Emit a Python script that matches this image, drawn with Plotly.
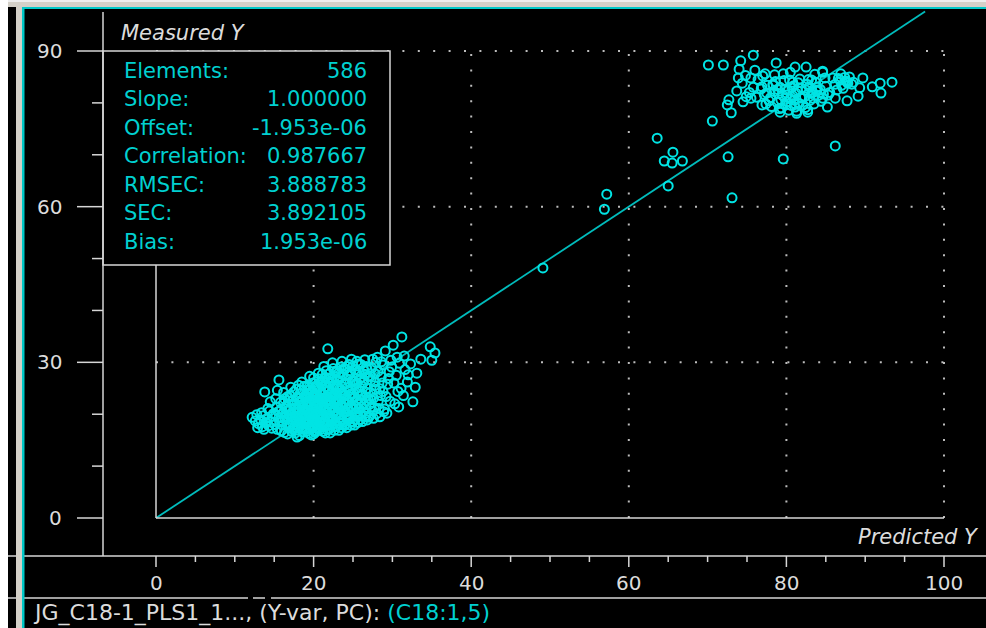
import plotly.graph_objects as go

# ---------------------------------------------------------------------------
# Predicted vs. measured values (Predicted Y, Measured Y)
# ---------------------------------------------------------------------------
lower_group = [
    (12.2, 19.4), (12.6, 18.7), (12.9, 17.4), (12.8, 19.9), (13.0, 18.2),
    (13.3, 18.9), (13.5, 17.6), (13.6, 19.7), (13.8, 24.3), (13.4, 20.3), (13.9, 18.4), (13.7, 17.1),
    (14.1, 19.2), (14.3, 17.8), (14.4, 20.6), (14.6, 18.5), (14.2, 21.1), (14.8, 19.6), (14.7, 17.3),
    (14.9, 20.1), (14.5, 22.4),
    (15.1, 18.0), (15.2, 19.9), (15.3, 21.4), (15.4, 17.1), (15.6, 26.6), (15.5, 20.5), (15.7, 18.7),
    (15.8, 22.3), (15.9, 16.8), (15.2, 23.0), (15.6, 19.3), (15.9, 21.0), (15.4, 24.6),
    (16.0, 17.9), (16.1, 20.2), (16.2, 22.1), (16.3, 16.5), (16.4, 19.0), (16.5, 21.5), (16.6, 18.3),
    (16.7, 23.4), (16.8, 20.7), (16.9, 17.4), (16.2, 24.2), (16.5, 19.6), (16.8, 22.6), (16.1, 18.7),
    (16.4, 21.0), (16.7, 16.2), (16.9, 19.9), (16.3, 23.0),
    (17.0, 18.1), (17.1, 20.9), (17.2, 16.7), (17.3, 22.5), (17.4, 19.4), (17.5, 24.3), (17.6, 17.6),
    (17.7, 21.3), (17.8, 18.9), (17.9, 15.6), (17.0, 23.6), (17.2, 20.0), (17.4, 17.2), (17.6, 22.0),
    (17.8, 19.7), (17.1, 25.2), (17.3, 18.5), (17.5, 21.0), (17.7, 16.4), (17.9, 23.2), (17.2, 19.1),
    (17.6, 20.4), (17.8, 24.8), (17.4, 21.8), (17.9, 17.9),
    (18.0, 16.9), (18.1, 19.3), (18.2, 21.7), (18.3, 24.0), (18.4, 17.8), (18.5, 20.1), (18.6, 22.9),
    (18.7, 18.6), (18.8, 25.4), (18.9, 20.8), (18.0, 23.1), (18.2, 15.9), (18.4, 22.2), (18.6, 19.6),
    (18.8, 17.2), (18.1, 21.0), (18.3, 18.2), (18.5, 26.2), (18.7, 21.4), (18.9, 23.6), (18.0, 20.4),
    (18.2, 18.8), (18.4, 24.7), (18.6, 16.6), (18.8, 19.9), (18.3, 22.5), (18.5, 17.5), (18.7, 20.9),
    (18.9, 18.3), (18.1, 25.6),
    (19.0, 17.4), (19.1, 19.8), (19.2, 22.3), (19.3, 24.6), (19.4, 16.3), (19.5, 18.9), (19.6, 21.5),
    (19.7, 23.8), (19.8, 20.3), (19.9, 26.0), (19.0, 21.0), (19.2, 18.1), (19.4, 20.6), (19.6, 17.2),
    (19.8, 22.8), (19.1, 24.0), (19.3, 19.2), (19.5, 27.3), (19.7, 19.5), (19.9, 17.8), (19.0, 23.3),
    (19.2, 25.4), (19.4, 22.0), (19.6, 20.0), (19.8, 18.5), (19.1, 16.7), (19.3, 21.8), (19.5, 23.1),
    (19.7, 16.0), (19.9, 21.2), (19.2, 20.4), (19.4, 18.4), (19.6, 25.0), (19.8, 24.3), (19.5, 19.6),
    (20.0, 16.2), (20.1, 18.6), (20.2, 20.9), (20.3, 23.2), (20.4, 25.5), (20.5, 17.3), (20.6, 19.7),
    (20.7, 22.0), (20.8, 24.4), (20.9, 21.1), (20.0, 27.0), (20.2, 19.0), (20.4, 21.6), (20.6, 17.9),
    (20.8, 20.2), (20.1, 22.7), (20.3, 16.8), (20.5, 24.9), (20.7, 18.4), (20.9, 26.3), (20.0, 20.5),
    (20.2, 23.8), (20.4, 18.0), (20.6, 21.9), (20.8, 17.0), (20.1, 25.0), (20.3, 20.0), (20.5, 22.4),
    (20.7, 26.8), (20.9, 19.1), (20.0, 18.9), (20.2, 16.5), (20.4, 23.5), (20.6, 27.9), (20.8, 22.9),
    (20.3, 21.5), (20.5, 19.4),
    (21.0, 17.6), (21.1, 20.0), (21.2, 22.4), (21.3, 24.8), (21.4, 27.1), (21.5, 18.7), (21.6, 21.1),
    (21.7, 23.4), (21.8, 32.6), (21.9, 19.6), (21.0, 25.7), (21.2, 16.7), (21.4, 20.6), (21.6, 28.4),
    (21.8, 22.0), (21.1, 23.7), (21.3, 18.2), (21.5, 26.0), (21.7, 17.0), (21.9, 24.5), (21.0, 21.8),
    (21.2, 19.3), (21.4, 23.0), (21.6, 25.4), (21.8, 18.8), (21.1, 27.7), (21.3, 21.4), (21.5, 16.4),
    (21.7, 20.3), (21.9, 27.0), (21.0, 23.1), (21.2, 26.4), (21.4, 17.8), (21.6, 22.7), (21.8, 25.0),
    (21.3, 29.2), (21.5, 20.8),
    (22.0, 17.2), (22.1, 19.5), (22.2, 21.9), (22.3, 24.2), (22.4, 26.6), (22.5, 28.8), (22.6, 18.3),
    (22.7, 20.7), (22.8, 23.0), (22.9, 25.3), (22.0, 27.8), (22.1, 16.4), (22.2, 22.6), (22.4, 19.0),
    (22.6, 24.9), (22.8, 17.6), (22.3, 21.2), (22.5, 23.6), (22.7, 27.2), (22.9, 20.1), (22.0, 24.6),
    (22.2, 18.5), (22.4, 29.9), (22.6, 22.2), (22.8, 19.8), (22.1, 25.9), (22.3, 17.9), (22.5, 20.4),
    (22.7, 24.1), (22.9, 22.6), (22.0, 20.9), (22.2, 26.9), (22.4, 23.3), (22.6, 16.9), (22.8, 28.1),
    (22.3, 19.3), (22.5, 25.6),
    (23.0, 17.7), (23.1, 20.2), (23.2, 22.5), (23.3, 24.9), (23.4, 27.2), (23.5, 29.1), (23.6, 18.9),
    (23.7, 21.3), (23.8, 23.6), (23.9, 26.0), (23.0, 28.4), (23.2, 16.9), (23.4, 19.4), (23.6, 25.3),
    (23.8, 20.6), (23.1, 23.0), (23.3, 18.3), (23.5, 21.9), (23.7, 27.7), (23.9, 17.8), (23.0, 25.6),
    (23.2, 19.9), (23.4, 24.1), (23.6, 30.2), (23.8, 22.3), (23.1, 26.6), (23.3, 21.0), (23.5, 17.4),
    (23.7, 23.9), (23.9, 28.8), (23.0, 22.1), (23.2, 28.0), (23.4, 21.6), (23.6, 20.0), (23.8, 18.4),
    (23.5, 24.6),
    (24.0, 18.0), (24.1, 20.4), (24.2, 22.8), (24.3, 25.1), (24.4, 27.5), (24.5, 29.6), (24.6, 19.2),
    (24.7, 21.6), (24.8, 24.0), (24.9, 26.4), (24.0, 28.7), (24.2, 17.4), (24.4, 20.9), (24.6, 23.3),
    (24.8, 30.6), (24.1, 25.8), (24.3, 19.5), (24.5, 22.1), (24.7, 27.9), (24.9, 18.6), (24.0, 23.6),
    (24.2, 26.8), (24.4, 18.9), (24.6, 28.4), (24.8, 21.2), (24.1, 22.0), (24.3, 29.2), (24.5, 24.5),
    (24.7, 17.9), (24.9, 23.0), (24.2, 20.0), (24.6, 26.1),
    (25.0, 18.5), (25.1, 21.0), (25.2, 23.3), (25.3, 25.7), (25.4, 28.0), (25.5, 30.2), (25.6, 19.6),
    (25.7, 22.1), (25.8, 24.5), (25.9, 26.9), (25.0, 29.3), (25.2, 17.9), (25.4, 20.4), (25.6, 27.6),
    (25.8, 21.0), (25.1, 24.0), (25.3, 19.0), (25.5, 22.8), (25.7, 29.7), (25.9, 23.6), (25.0, 26.3),
    (25.2, 28.6), (25.4, 24.9), (25.6, 18.4), (25.8, 28.3), (25.3, 21.6), (25.5, 26.0), (25.9, 20.2),
    (26.0, 19.0), (26.1, 21.4), (26.2, 23.8), (26.3, 26.1), (26.4, 28.4), (26.5, 30.5), (26.6, 20.2),
    (26.7, 22.6), (26.8, 25.0), (26.9, 27.3), (26.0, 29.6), (26.2, 18.6), (26.4, 21.9), (26.6, 24.3),
    (26.8, 18.9), (26.1, 25.5), (26.3, 20.5), (26.5, 27.7), (26.7, 29.2), (26.9, 23.1), (26.0, 22.7),
    (26.4, 26.6), (26.6, 19.6), (26.8, 28.6),
    (27.0, 19.4), (27.1, 21.9), (27.2, 24.2), (27.3, 26.6), (27.4, 28.9), (27.5, 20.6), (27.6, 23.1),
    (27.7, 25.5), (27.8, 27.8), (27.9, 30.0), (27.1, 19.7), (27.3, 22.8), (27.5, 30.6), (27.7, 21.3),
    (27.9, 24.8), (27.2, 27.3), (27.6, 19.2), (27.8, 26.2),
    (28.0, 20.1), (28.2, 22.5), (28.4, 24.9), (28.6, 27.2), (28.8, 29.5), (28.1, 31.0), (28.3, 21.1),
    (28.5, 23.6), (28.7, 26.0), (28.9, 20.5), (28.2, 28.3), (28.6, 30.1), (28.4, 19.5), (28.8, 24.4),
    (29.0, 21.0), (29.2, 23.4), (29.4, 25.8), (29.6, 28.2), (29.8, 30.4), (29.1, 32.2), (29.3, 20.2),
    (29.5, 26.9), (29.7, 22.5), (29.9, 29.1),
    (30.1, 33.3), (30.3, 22.0), (30.5, 27.5), (30.7, 24.4), (30.9, 29.8), (30.2, 26.0), (30.6, 31.0),
    (30.8, 21.4),
    (31.2, 34.9), (31.4, 23.6), (31.6, 28.6), (31.9, 26.2), (31.5, 31.2), (31.1, 25.0),
    (32.6, 22.4), (32.3, 29.7), (32.9, 25.2), (32.0, 27.6),
    (33.1, 27.9), (33.6, 30.6),
    (34.8, 33.0), (35.4, 31.8), (35.0, 30.4),
]

middle_points = [
    (49.1, 48.2), (57.2, 62.4), (56.9, 59.5), (63.6, 73.2), (65.6, 70.5), (64.5, 68.8), (65.5, 68.4),
    (66.8, 68.8), (65.0, 64.0), (72.6, 69.6), (73.1, 61.7), (70.6, 76.5), (79.6, 69.2), (86.2, 71.7),
]

upper_group = [
    (70.1, 87.3), (72.0, 87.3), (74.2, 88.1), (74.0, 86.5), (75.8, 89.2), (78.7, 87.7), (81.1, 86.9),
    (82.5, 86.9), (84.6, 86.1), (75.5, 84.8), (74.4, 83.8), (77.3, 85.6), (73.7, 82.3), (72.7, 80.6),
    (72.5, 79.6), (73.0, 78.1), (74.5, 80.2), (75.5, 80.9), (76.9, 79.6), (76.9, 83.1), (77.5, 81.9),
    (78.3, 83.4), (79.2, 78.2), (81.3, 78.0), (82.7, 78.2), (80.8, 84.0), (83.2, 84.4), (85.2, 79.2),
    (86.2, 80.9), (87.7, 80.4), (89.1, 81.3), (89.7, 84.8), (90.9, 83.1), (91.9, 83.8), (92.0, 81.9),
    (93.4, 84.0), (89.3, 82.9), (86.8, 84.4), (87.7, 84.0), (88.5, 84.0), (85.9, 84.8), (83.9, 82.5),
    (84.6, 80.9), (85.3, 81.5),
    (78.0, 81.0), (78.4, 82.2), (78.8, 80.1), (79.2, 83.0), (79.5, 81.5), (79.9, 79.6), (80.2, 82.4),
    (80.5, 80.8), (80.9, 83.3), (81.2, 81.9), (81.6, 79.9), (81.9, 82.8), (82.3, 81.2), (82.6, 83.6),
    (83.0, 80.5), (83.3, 82.1), (83.7, 84.0), (84.0, 81.4), (77.6, 83.4), (78.1, 79.3), (78.6, 84.1),
    (79.0, 81.8), (79.4, 79.0), (79.8, 82.6), (80.1, 80.2), (80.4, 84.4), (80.8, 81.4), (81.1, 79.2),
    (81.5, 83.9), (81.8, 81.0), (82.1, 79.6), (82.5, 82.5), (82.8, 84.5), (83.2, 81.8), (83.5, 79.8),
    (83.9, 83.0), (84.3, 82.6), (84.7, 81.7), (77.2, 81.6), (77.8, 80.4), (78.3, 83.6), (78.9, 82.6),
    (79.3, 80.6), (79.7, 84.3), (80.0, 81.5), (80.6, 79.5), (80.7, 83.0), (81.0, 80.5), (81.4, 82.4),
    (81.7, 84.6), (82.0, 80.9), (82.4, 79.1), (82.9, 83.1), (83.4, 80.9), (83.8, 82.3), (84.4, 80.3),
    (76.8, 82.7), (77.4, 79.8), (76.4, 84.5), (77.0, 85.2), (76.2, 81.1), (75.8, 83.0), (85.0, 83.2),
    (85.5, 82.0), (84.9, 84.8), (86.2, 83.6), (86.6, 84.7), (87.0, 83.4), (87.4, 84.9), (87.8, 83.8),
    (86.9, 85.6), (87.2, 82.8), (88.0, 85.0), (86.4, 82.5), (88.3, 83.6), (87.6, 84.2), (80.3, 78.6),
    (81.3, 78.4), (79.1, 78.9), (82.7, 78.7), (78.5, 85.4), (79.6, 85.6), (80.5, 85.9), (76.0, 86.3),
    (74.8, 85.3), (75.3, 82.0), (74.9, 81.2), (73.9, 84.8), (83.6, 85.5), (84.6, 85.9),
]

# regression statistics
slope = 1.000000
offset = -1.953e-06
correlation = 0.987667
rmsec = 3.888783
sec = 3.892105
bias = 1.953e-06

fit_x = [0.0, 97.6]

x_ticks = [0, 20, 40, 60, 80, 100]
x_minor = [5, 10, 15, 25, 30, 35, 45, 50, 55, 65, 70, 75, 85, 90, 95]
y_ticks = [0, 30, 60, 90]
y_minor = [10, 20, 40, 50, 70, 80]

x_title = "Predicted Y"
y_title = "Measured Y"
footer_main = "JG_C18-1_PLS1_1..., (Y-var, PC): "
footer_var = "(C18:1,5)"

# ---------------------------------------------------------------------------
points = lower_group + middle_points + upper_group
pred = [p for p, _ in points]
meas = [m for _, m in points]
fit_y = [slope * x + offset for x in fit_x]

stat_labels = ["Elements:", "Slope:", "Offset:", "Correlation:", "RMSEC:", "SEC:", "Bias:"]
stat_values = [
    f"{len(points)}",
    f"{slope:.6f}",
    f"{offset:.3e}",
    f"{correlation:.6f}",
    f"{rmsec:.6f}",
    f"{sec:.6f}",
    f"{bias:.3e}",
]

# page geometry (pixels)
W, H = 986, 628
X0_PX, X100_PX = 156, 944        # x = 0 and x = 100
Y0_PX, Y90_PX = 518, 51          # y = 0 and y = 90
kx = (X100_PX - X0_PX) / 100.0
ky = (Y0_PX - Y90_PX) / 90.0
x_range = [-X0_PX / kx, (W - X0_PX) / kx]
y_range = [-(H - Y0_PX) / ky, Y0_PX / ky]


def fx(px):
    return px / W


def fy(py):
    return 1 - py / H


FONT = "DejaVu Sans"
TXT = "#dcdcdc"
LINE = "#d6d6d6"
CYAN = "#00e4e4"
STAT = "#00d0d0"
GRID = "#bcbcbc"

fig = go.Figure()

fig.add_trace(go.Scatter(
    x=fit_x, y=fit_y, mode="lines",
    line=dict(color="#00bcbc", width=1.8),
    hoverinfo="skip",
))
fig.add_trace(go.Scatter(
    x=pred, y=meas, mode="markers",
    marker=dict(symbol="circle-open", size=9, color=CYAN, line=dict(color=CYAN, width=2)),
))

shapes = []

# dotted grid inside the 0..100 x 0..90 box
for v in x_ticks[1:]:
    shapes.append(dict(type="line", xref="x", yref="y", x0=v, x1=v, y0=y_ticks[0], y1=y_ticks[-1],
                       line=dict(color=GRID, width=2, dash="2px,13.4px"), layer="below"))
for v in y_ticks[1:]:
    shapes.append(dict(type="line", xref="x", yref="y", x0=x_ticks[0], x1=x_ticks[-1], y0=v, y1=v,
                       line=dict(color=GRID, width=2, dash="2px,13.4px"), layer="below"))

# axis lines through the origin
shapes.append(dict(type="line", xref="x", yref="y", x0=x_ticks[0], x1=x_ticks[-1], y0=0, y1=0,
                   line=dict(color=LINE, width=1.5), layer="above"))
shapes.append(dict(type="line", xref="x", yref="y", x0=0, x1=0, y0=y_ticks[0], y1=y_ticks[-1],
                   line=dict(color=LINE, width=1.5), layer="above"))

# statistics panel
shapes.append(dict(type="rect", xref="paper", yref="paper", x0=fx(103), x1=fx(390), y0=fy(265), y1=fy(51),
                   fillcolor="black", line=dict(color=LINE, width=1.5), layer="above"))

# left value strip
shapes.append(dict(type="line", xref="paper", yref="paper", x0=fx(103), x1=fx(103), y0=fy(556), y1=fy(12),
                   line=dict(color=LINE, width=1.5), layer="above"))
for v in y_ticks:
    shapes.append(dict(type="line", xref="paper", yref="y", x0=fx(77), x1=fx(103), y0=v, y1=v,
                       line=dict(color=LINE, width=1.5), layer="above"))
for v in y_minor:
    shapes.append(dict(type="line", xref="paper", yref="y", x0=fx(92), x1=fx(103), y0=v, y1=v,
                       line=dict(color=LINE, width=1.5), layer="above"))

# bottom value strip
shapes.append(dict(type="line", xref="paper", yref="paper", x0=fx(8), x1=1, y0=fy(556), y1=fy(556),
                   line=dict(color=LINE, width=1.5), layer="above"))
for v in x_ticks:
    shapes.append(dict(type="line", xref="x", yref="paper", x0=v, x1=v, y0=fy(556), y1=fy(567),
                       line=dict(color=LINE, width=1.5), layer="above"))
for v in x_minor:
    shapes.append(dict(type="line", xref="x", yref="paper", x0=v, x1=v, y0=fy(556), y1=fy(562),
                       line=dict(color=LINE, width=1.5), layer="above"))

# status bar separator
for a, b in [(8, 248), (253, 265), (271, W)]:
    shapes.append(dict(type="line", xref="paper", yref="paper", x0=fx(a), x1=fx(b), y0=fy(598), y1=fy(598),
                       line=dict(color=LINE, width=1.5), layer="above"))

# window frame
shapes += [
    dict(type="rect", xref="paper", yref="paper", x0=0, x1=1, y0=fy(7), y1=1,
         fillcolor="#d4d0c8", line=dict(width=0), layer="above"),
    dict(type="rect", xref="paper", yref="paper", x0=0, x1=1, y0=fy(2), y1=1,
         fillcolor="#eeeeee", line=dict(width=0), layer="above"),
    dict(type="rect", xref="paper", yref="paper", x0=fx(22), x1=1, y0=fy(9), y1=fy(7),
         fillcolor="#00c8c8", line=dict(width=0), layer="above"),
    dict(type="rect", xref="paper", yref="paper", x0=0, x1=fx(8), y0=0, y1=1,
         fillcolor="#ffffff", line=dict(width=0), layer="above"),
    dict(type="rect", xref="paper", yref="paper", x0=fx(16), x1=fx(22), y0=0, y1=fy(7),
         fillcolor="#d4d0c8", line=dict(width=0), layer="above"),
    dict(type="rect", xref="paper", yref="paper", x0=fx(22), x1=fx(24.5), y0=0, y1=fy(7),
         fillcolor="#00c8c8", line=dict(width=0), layer="above"),
]

annotations = []
for v in y_ticks:
    annotations.append(dict(xref="paper", yref="y", x=fx(64), y=v, xanchor="right", yanchor="middle",
                            text=str(v), showarrow=False, font=dict(family=FONT, size=20, color=TXT)))
for v in x_ticks:
    annotations.append(dict(xref="x", yref="paper", x=v, y=fy(583), xanchor="center", yanchor="middle",
                            text=str(v), showarrow=False, font=dict(family=FONT, size=20, color=TXT)))

annotations.append(dict(xref="paper", yref="paper", x=fx(119), y=fy(33), xanchor="left", yanchor="middle",
                        text=f"<i>{y_title}</i>", showarrow=False, font=dict(family=FONT, size=21, color=TXT)))
annotations.append(dict(xref="paper", yref="paper", x=fx(981), y=fy(537), xanchor="right", yanchor="middle",
                        text=f"<i>{x_title}</i>", showarrow=False, font=dict(family=FONT, size=21, color=TXT)))

row_y = [70.5, 99, 127.5, 156, 184.5, 213, 241.5]
for lab, val, yy in zip(stat_labels, stat_values, row_y):
    annotations.append(dict(xref="paper", yref="paper", x=fx(122), y=fy(yy), xanchor="left", yanchor="middle",
                            text=lab, showarrow=False, font=dict(family=FONT, size=21, color=STAT)))
    annotations.append(dict(xref="paper", yref="paper", x=fx(369), y=fy(yy), xanchor="right", yanchor="middle",
                            text=val, showarrow=False, font=dict(family=FONT, size=21, color=STAT)))

annotations.append(dict(xref="paper", yref="paper", x=fx(31), y=fy(613), xanchor="left", yanchor="middle",
                        text=f"{footer_main}<span style='color:{STAT}'>{footer_var}</span>",
                        showarrow=False, font=dict(family=FONT, size=22, color=TXT)))

fig.update_layout(
    width=W, height=H,
    margin=dict(l=0, r=0, t=0, b=0, pad=0),
    paper_bgcolor="black",
    plot_bgcolor="black",
    showlegend=False,
    xaxis=dict(range=x_range, visible=False, fixedrange=True),
    yaxis=dict(range=y_range, visible=False, fixedrange=True),
    shapes=shapes,
    annotations=annotations,
)

fig.write_html("out.html")
